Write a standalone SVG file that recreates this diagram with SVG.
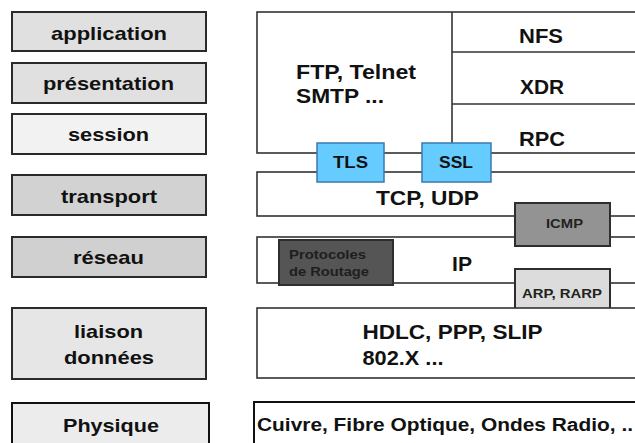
<svg xmlns="http://www.w3.org/2000/svg" width="635" height="443" viewBox="0 0 635 443">
  <style>
    text { font-family: "Liberation Sans", Arial, sans-serif; font-weight: bold; fill: #111; }
    .layer { stroke: #2a2a2a; stroke-width: 2; }
    .lbl { font-size: 19px; text-anchor: middle; }
    .proto { fill: #fff; stroke: #333; stroke-width: 1.6; }
    .rule { stroke: #333; stroke-width: 1.6; }
    .big { font-size: 20px; }
    .sec { fill: #66ccff; stroke: #3d78ad; stroke-width: 1.5; }
    .sectxt { font-size: 16px; }
    .small { font-size: 13px; }
    .tiny { font-size: 12px; fill: #222; }
    .box { stroke: #2e2e2e; stroke-width: 2; }
  </style>
  <rect width="635" height="443" fill="#fff"/>

  <!-- OSI layer names -->
  <g id="layer-application">
    <rect class="layer" x="12" y="12" width="194" height="39" fill="#e0e0e0"/>
    <text class="lbl" x="109" y="40" textLength="116" lengthAdjust="spacingAndGlyphs">application</text>
  </g>
  <g id="layer-presentation">
    <rect class="layer" x="12" y="63" width="194" height="40" fill="#e0e0e0"/>
    <text class="lbl" x="108.5" y="90" textLength="131" lengthAdjust="spacingAndGlyphs">présentation</text>
  </g>
  <g id="layer-session">
    <rect class="layer" x="12" y="114" width="194" height="40" fill="#f2f2f2"/>
    <text class="lbl" x="108.5" y="141" textLength="81" lengthAdjust="spacingAndGlyphs">session</text>
  </g>
  <g id="layer-transport">
    <rect class="layer" x="12" y="175" width="194" height="40" fill="#d2d2d2"/>
    <text class="lbl" x="109" y="203" textLength="96" lengthAdjust="spacingAndGlyphs">transport</text>
  </g>
  <g id="layer-reseau">
    <rect class="layer" x="12" y="237" width="194" height="40" fill="#d0d0d0"/>
    <text class="lbl" x="108.5" y="264" textLength="71" lengthAdjust="spacingAndGlyphs">réseau</text>
  </g>
  <g id="layer-liaison">
    <rect class="layer" x="12" y="308" width="194" height="71" fill="#e6e6e6"/>
    <text class="lbl" x="108.5" y="338" textLength="69" lengthAdjust="spacingAndGlyphs">liaison</text>
    <text class="lbl" x="109" y="364" textLength="90" lengthAdjust="spacingAndGlyphs">données</text>
  </g>
  <g id="layer-physique">
    <rect x="12" y="403" width="197" height="48" fill="#ececec" stroke="#111" stroke-width="2"/>
    <text class="lbl" x="111" y="432" textLength="96" lengthAdjust="spacingAndGlyphs">Physique</text>
  </g>

  <!-- Protocol stack -->
  <g id="upper-layers">
    <rect class="proto" x="257" y="12" width="390" height="141"/>
    <line class="rule" x1="452" y1="12" x2="452" y2="153"/>
    <line class="rule" x1="452" y1="52" x2="640" y2="52"/>
    <line class="rule" x1="452" y1="104" x2="640" y2="104"/>
    <text class="big" x="296" y="79" textLength="120" lengthAdjust="spacingAndGlyphs">FTP, Telnet</text>
    <text class="big" x="296" y="103" textLength="88" lengthAdjust="spacingAndGlyphs">SMTP ...</text>
    <text class="big" x="519" y="43" textLength="44" lengthAdjust="spacingAndGlyphs">NFS</text>
    <text class="big" x="520" y="94" textLength="44" lengthAdjust="spacingAndGlyphs">XDR</text>
    <text class="big" x="519" y="146" textLength="46" lengthAdjust="spacingAndGlyphs">RPC</text>
  </g>

  <g id="transport-protocols">
    <rect class="proto" x="257" y="172" width="390" height="44"/>
    <text class="big" x="376" y="205" textLength="103" lengthAdjust="spacingAndGlyphs">TCP, UDP</text>
  </g>

  <g id="network-protocols">
    <rect class="proto" x="257" y="237" width="390" height="46"/>
    <text class="big" x="452" y="271" textLength="20" lengthAdjust="spacingAndGlyphs">IP</text>
  </g>

  <g id="routing">
    <rect class="box" x="279" y="240" width="114" height="45" fill="#555"/>
    <text class="small" x="289" y="258.5" textLength="77" lengthAdjust="spacingAndGlyphs" style="fill:#1e1e1e">Protocoles</text>
    <text class="small" x="289" y="275.5" textLength="80" lengthAdjust="spacingAndGlyphs" style="fill:#1e1e1e">de Routage</text>
  </g>

  <g id="icmp">
    <rect class="box" x="515" y="203" width="95" height="43" fill="#939393"/>
    <text class="tiny" x="546" y="228" textLength="37" lengthAdjust="spacingAndGlyphs">ICMP</text>
  </g>

  <g id="arp">
    <rect class="box" x="515" y="269" width="95" height="43" fill="#dcdcdc"/>
    <text class="tiny" x="522" y="298" textLength="80" lengthAdjust="spacingAndGlyphs">ARP, RARP</text>
  </g>

  <g id="link-protocols">
    <rect class="proto" x="257" y="308" width="390" height="70"/>
    <text class="big" x="362.5" y="338.5" textLength="180" lengthAdjust="spacingAndGlyphs">HDLC, PPP, SLIP</text>
    <text class="big" x="362.5" y="365" textLength="81" lengthAdjust="spacingAndGlyphs">802.X ...</text>
  </g>

  <g id="physical-media">
    <rect x="254" y="402" width="390" height="50" fill="#fff" stroke="#111" stroke-width="2"/>
    <text x="257" y="431" textLength="376" lengthAdjust="spacingAndGlyphs" style="font-size:18px">Cuivre, Fibre Optique, Ondes Radio, ..</text>
  </g>

  <g id="tls">
    <rect class="sec" x="317" y="143" width="67" height="39"/>
    <text class="sectxt" x="333" y="168" textLength="35" lengthAdjust="spacingAndGlyphs">TLS</text>
  </g>
  <g id="ssl">
    <rect class="sec" x="422" y="143" width="69" height="39"/>
    <text class="sectxt" x="439" y="168" textLength="34" lengthAdjust="spacingAndGlyphs">SSL</text>
  </g>
</svg>
